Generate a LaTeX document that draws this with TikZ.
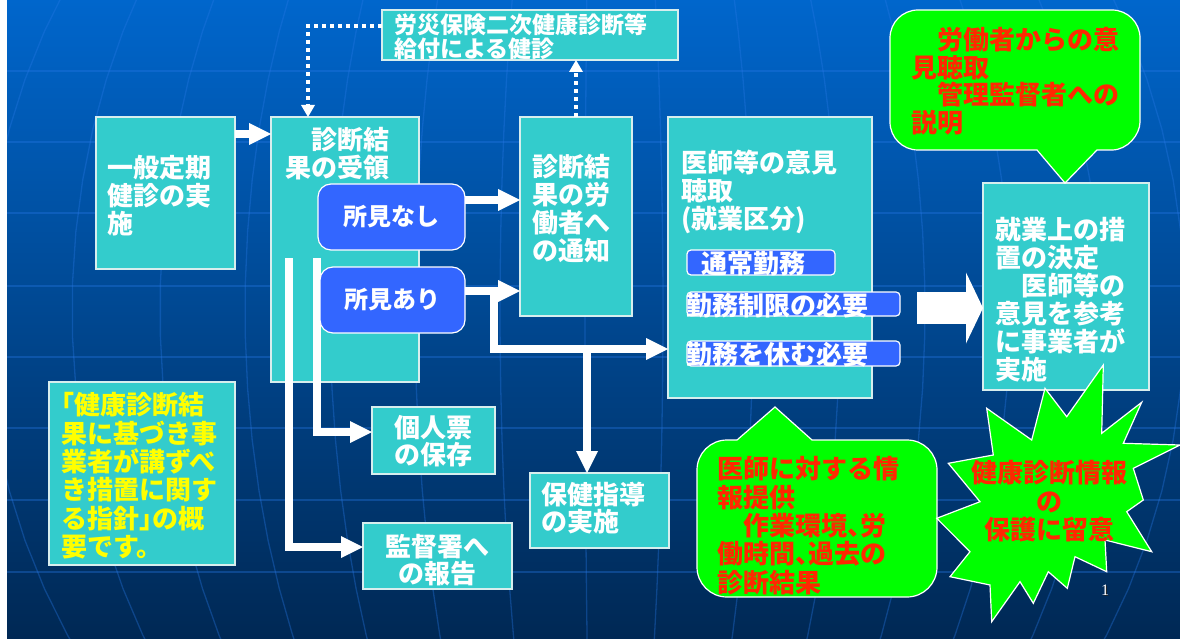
\documentclass[tikz,border=0pt]{standalone}
\usepackage{fontspec}
\setmainfont{Noto Sans CJK JP}
\newfontfamily\numfont{Liberation Serif}
\usetikzlibrary{arrows.meta}
\definecolor{turq}{RGB}{51,204,204}
\definecolor{bordc}{RGB}{215,238,238}
\definecolor{sbblue}{RGB}{51,102,255}
\definecolor{cgreen}{RGB}{0,255,0}
\definecolor{ctext}{RGB}{255,40,0}
\definecolor{ytext}{RGB}{255,255,0}
\definecolor{bgtop}{RGB}{0,102,204}
\definecolor{bgbot}{RGB}{0,40,84}
\definecolor{gridc}{RGB}{40,120,230}
\newcommand{\firstln}{\rule{0pt}{.9em}}
\newcommand{\hw}{\kern-.5em}
\begin{document}
\begin{tikzpicture}[x=1pt,y=-1pt,
  box/.style={draw=bordc,line width=1.2pt,fill=turq,inner sep=0pt,outer sep=0pt,anchor=north west},
  sbox/.style={draw=white,line width=1.2pt,fill=sbblue,inner sep=0pt,outer sep=0pt,anchor=north west,rounded corners=4pt},
  fbox/.style={sbox,rounded corners=13pt,text=white,font=\fontsize{24pt}{26pt}\selectfont\bfseries},
  txt/.style={inner sep=0pt,outer sep=0pt,anchor=north west,align=left,text=white,font=\fontsize{26pt}{28pt}\selectfont\bfseries},
  warrow/.style={draw=white,line width=7.5pt,line join=miter,-{Triangle[length=22pt,width=22pt,line width=0pt]}},
  dotarrow/.style={draw=white,line width=4.5pt,dash pattern=on 4pt off 4pt,-{Triangle[length=12pt,width=14pt,line width=0pt]}},
  bigarrow/.style={draw=white,line width=32pt,-{Triangle[length=17pt,width=71pt,line width=0pt]}},
  callout/.style={fill=cgreen,draw=white,line width=1.2pt,line join=miter},
  gridline/.style={draw=gridc,opacity=0.35,line width=1.3pt},
]
\useasboundingbox (0,0) rectangle (1180,639);
\fill[top color=bgtop,bottom color=bgbot] (7,0) rectangle (1180,639);
\fill[white] (0,0) rectangle (7,639);
\begin{scope}
\clip (7,0) rectangle (1180,639);
\foreach \yy in {71,142,213,286,357,428,500,572} \draw[gridline] (7,\yy) -- (1180,\yy);
\foreach \r in {15,100,185,270,355,440,528,615} \draw[gridline] plot[domain=-90:90,samples=40] ({600-\r*cos(\x)},{310+650*sin(\x)});
\foreach \r in {63,153,240,325,410,500,585} \draw[gridline] plot[domain=-90:90,samples=40] ({600+\r*cos(\x)},{310+650*sin(\x)});
\end{scope}

% boxes
\node[box,minimum width=139pt,minimum height=152pt] (A) at (96,117) {};
\node[box,minimum width=148pt,minimum height=265pt] (B) at (271,117) {};
\node[box,minimum width=296pt,minimum height=50pt] (T) at (382,10) {};
\node[box,minimum width=112pt,minimum height=199pt] (C) at (520,117) {};
\node[box,minimum width=204pt,minimum height=281pt] (D) at (668,117) {};
\node[box,minimum width=166pt,minimum height=207pt] (E) at (983,183) {};
\node[box,minimum width=123pt,minimum height=67pt] (K1) at (372,407) {};
\node[box,minimum width=149pt,minimum height=66pt] (K2) at (363,523) {};
\node[box,minimum width=139pt,minimum height=75pt] (H) at (530,473) {};
\node[box,minimum width=186pt,minimum height=183pt] (Y) at (49,382) {};

% vertical bars from the result box
\coordinate (v1) at (289,258);
\coordinate (k2w) at (363,547);
\draw[warrow] (v1) |- (k2w);
\coordinate (v2) at (317,258);
\coordinate (k1w) at (372,432);
\draw[warrow] (v2) |- (k1w);

% finding boxes
\node[fbox,minimum width=147pt,minimum height=66pt] (nashi) at (318,184) {所見なし};
\node[fbox,minimum width=145pt,minimum height=66pt] (ari) at (320,267) {所見あり};

% sub boxes in D
\node[sbox,minimum width=148pt,minimum height=25pt] (s1) at (687,250) {};
\node[sbox,minimum width=213pt,minimum height=24pt] (s2) at (687,292) {};
\node[sbox,minimum width=213pt,minimum height=25pt] (s3) at (687,341) {};

% arrows
\coordinate (a1) at (235,134);
\draw[warrow] (a1) -- (a1 -| B.west);
\coordinate (n1) at (465,200);
\draw[warrow] (n1) -- (n1 -| C.west);
\coordinate (r1) at (465,291);
\draw[warrow] (r1) -- (r1 -| C.west);
\coordinate (r2) at (494,291);
\coordinate (r3) at (494,349);
\draw[warrow] (r2) -- (r3) -- (r3 -| D.west);
\coordinate (r4) at (587,349);
\draw[warrow] (r4) -- (r4 |- H.north);
\coordinate (c1) at (576,117);
\draw[dotarrow] (c1) -- (c1 |- T.south);
\coordinate (t1) at (382,26);
\coordinate (b1) at (308,117);
\draw[dotarrow] (t1) -| (b1);
\coordinate (bs) at (917,308);
\draw[bigarrow] (bs) -- (bs -| E.west);

% callouts
\draw[callout] (1037,150) -- (1065,183) -- (1097,150) -- (1112,150) .. controls (1127.5,150) and (1140,134.5) .. (1140,122) -- (1140,38) .. controls (1140,22.5) and (1127.5,10) .. (1112,10) -- (918,10) .. controls (902.5,10) and (890,22.5) .. (890,38) -- (890,122) .. controls (890,137.5) and (902.5,150) .. (918,150) -- cycle;
\draw[callout] (737,440) -- (775,407) -- (812,440) -- (907,440) .. controls (923.6,440) and (937,453.4) .. (937,470) -- (937,567) .. controls (937,583.6) and (923.6,597) .. (907,597) -- (727,597) .. controls (710.4,597) and (697,583.6) .. (697,567) -- (697,470) .. controls (697,453.4) and (710.4,440) .. (727,440) -- cycle;
\draw[callout] (1103.3,365) -- (1101.7,433.3) -- (1141.7,402.3) -- (1123.3,443.3) -- (1180,445) -- (1133.3,468.3) -- (1143.3,500) -- (1126.7,511.7) -- (1151.7,551.7) -- (1105,540) -- (1106.7,571.7) -- (1075,556.7) -- (1067.3,588.3) -- (1048.3,571.7) -- (1033.3,603.3) -- (1020,581.7) -- (991.7,621.7) -- (990,585) -- (950,576.7) -- (970,551.7) -- (936.7,518.3) -- (980,501.7) -- (948.3,463.3) -- (993.3,455) -- (986.7,408.3) -- (1031.7,440) -- (1045,388.3) -- (1066.7,416.7) -- cycle;

% texts
\node[txt] (tA) at (107,154.5) {\firstln 一般定期\\健診の実\\施};
\node[txt,anchor=north east,align=right] (tB) at (389,126.5) {\firstln 診断結\\果の受領};
\node[txt] (tC) at (532,153.5) {\firstln 診断結\\果の労\\働者へ\\の通知};
\node[txt] (tD) at (681,149.5) {\firstln 医師等の意見\\聴取\\(就業区分)};
\node[txt] (tE) at (995,216.5) {\firstln 就業上の措\\置の決定\\　医師等の\\意見を参考\\に事業者が\\実施};
\node[txt,font=\fontsize{23pt}{23.5pt}\selectfont\bfseries] (tT) at (394,13) {\firstln 労災保険二次健康診断等\\給付による健診};
\node[txt,text=ctext,font=\fontsize{26pt}{27.5pt}\selectfont\bfseries] (tG1) at (911,26.5) {\firstln 　労働者からの意\\見聴取\\　管理監督者への\\説明};
\node[txt,text=ctext,font=\fontsize{26pt}{28.3pt}\selectfont\bfseries] (tG2) at (717,455.5) {\firstln 医師に対する情\\報提供\\　作業環境、\hw 労\\働時間、\hw 過去の\\診断結果};
\node[txt,text=ytext,font=\fontsize{26pt}{28.3pt}\selectfont\bfseries] (tY) at (61,391.5) {\firstln \hw「健康診断結\\果に基づき事\\業者が講ずべ\\き措置に関す\\る指針」\hw の概\\要です。};
\node[txt,text=ctext,anchor=north,align=center,font=\fontsize{26pt}{28.5pt}\selectfont\bfseries] (tS) at (1049,459.5) {\firstln 健康診断情報\\の\\保護に留意};
\node[txt,anchor=north,align=center,font=\fontsize{26pt}{27pt}\selectfont\bfseries] (tK1) at (433,414.5) {\firstln 個人票\\の保存};
\node[txt,anchor=north,align=center,font=\fontsize{26pt}{27pt}\selectfont\bfseries] (tK2) at (437,533.5) {\firstln 監督署へ\\の報告};
\node[txt,font=\fontsize{26pt}{27pt}\selectfont\bfseries] (tH) at (541,481.5) {\firstln 保健指導\\の実施};
\node[txt] (ts1) at (701,250) {\firstln 通常勤務};
\node[txt] (ts2) at (686,292.5) {\firstln 勤務制限の必要};
\node[txt] (ts3) at (686,341.5) {\firstln 勤務を休む必要};

% page number
\node[inner sep=0pt,text=black!85,font=\numfont\fontsize{16pt}{16pt}\selectfont] (pgs) at (1106.2,591.2) {1};
\node[inner sep=0pt,text=white,font=\numfont\fontsize{16pt}{16pt}\selectfont] (pg) at (1105,590) {1};
\end{tikzpicture}
\end{document}
